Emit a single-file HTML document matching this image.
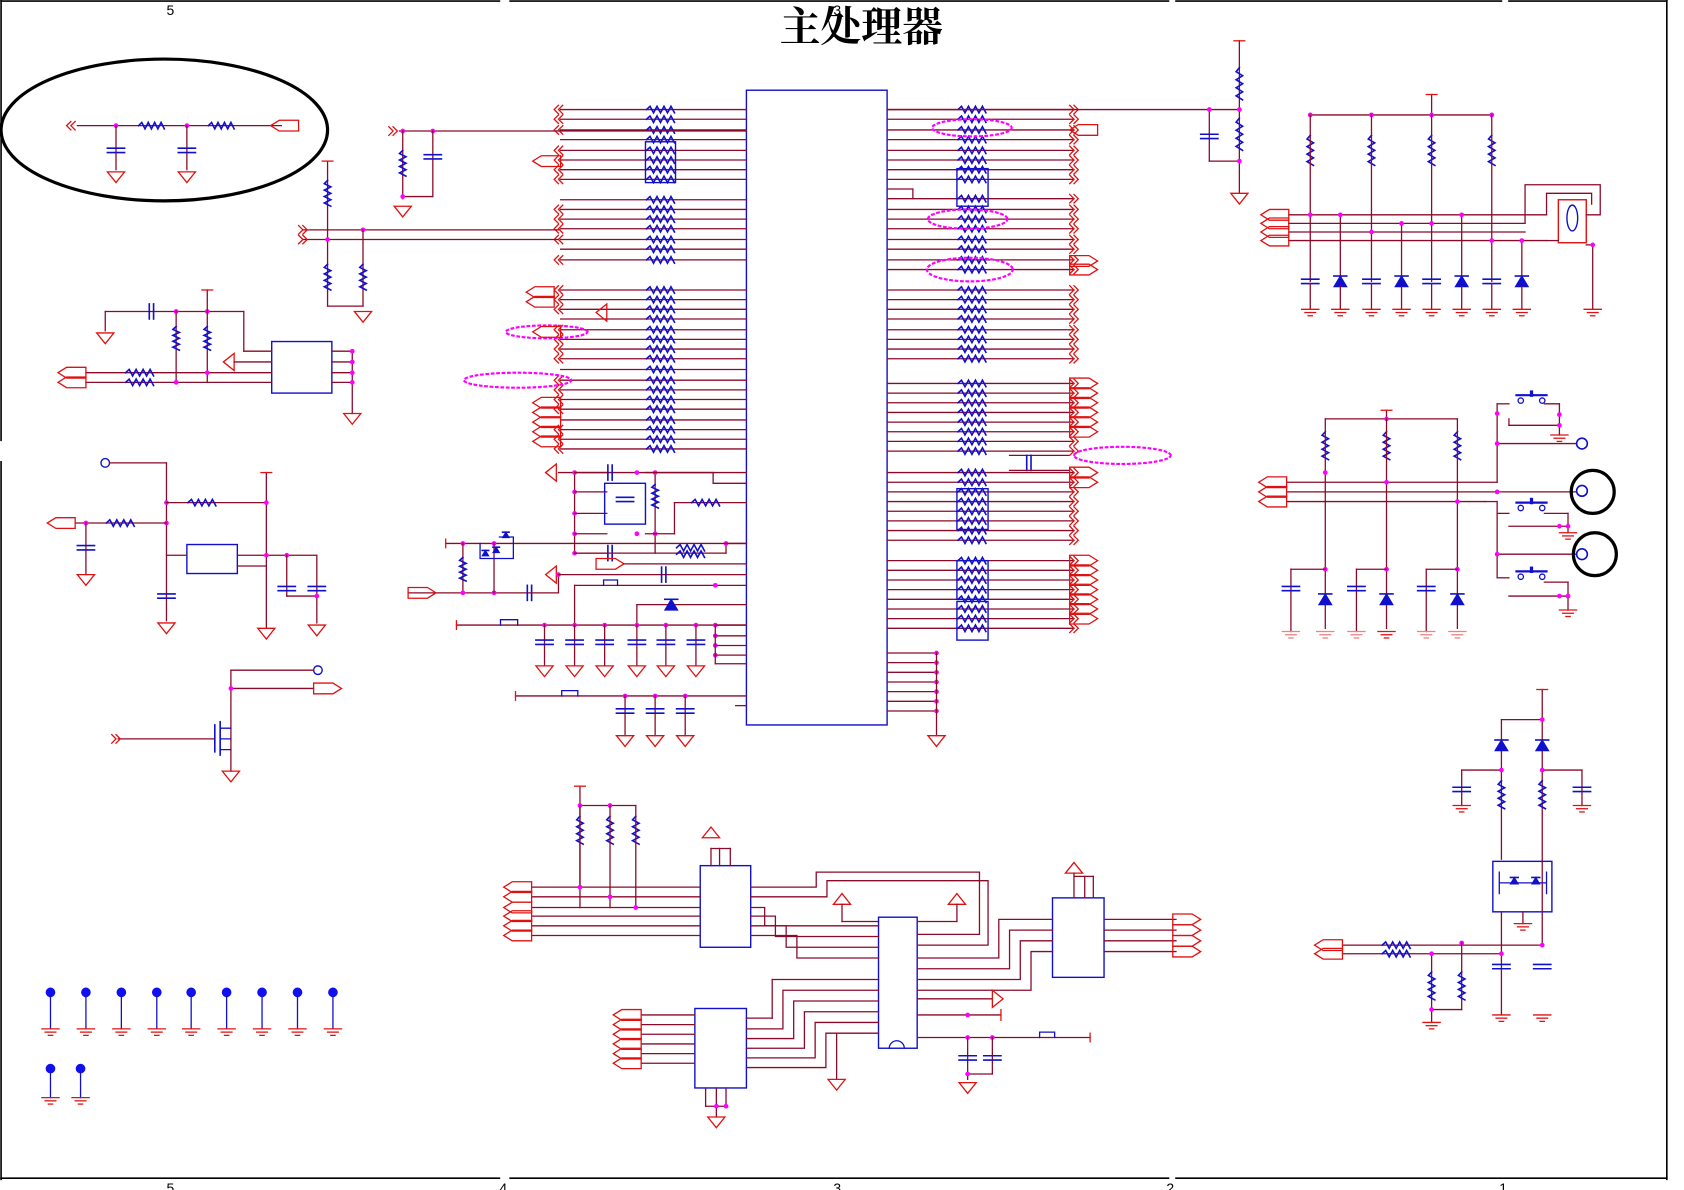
<!DOCTYPE html>
<html><head><meta charset="utf-8"><style>
html,body{margin:0;padding:0;background:#fff;width:1684px;height:1190px;overflow:hidden}
svg{display:block}
</style></head><body>
<svg id="s" width="1684" height="1190" viewBox="0 0 1568 1108" preserveAspectRatio="none" xmlns="http://www.w3.org/2000/svg">
<g id="g" fill="none" stroke-linecap="square"></g>
<text x="802" y="38" font-family="Liberation Serif, 'Noto Serif CJK SC', serif" font-size="38" font-weight="bold" text-anchor="middle" fill="#000">主处理器</text>
<g font-family="Liberation Sans, sans-serif" font-size="13" fill="#000">
<text x="155" y="14">5</text><text x="776" y="14">3</text>
<text x="155" y="1111">5</text><text x="465" y="1111">4</text><text x="776" y="1111">3</text><text x="1086" y="1111">2</text><text x="1396" y="1111">1</text>
</g>
</svg>
<script>
var o=[];
var W="#8a0a2a",R="#e01010",B="#1010cc",M="#ff00ff";
function L(a,b,c,d,col,w){o.push('<line x1="'+a+'" y1="'+b+'" x2="'+c+'" y2="'+d+'" stroke="'+(col||W)+'" stroke-width="'+(w||1.2)+'"/>');}
function P(d,col,w,f){o.push('<path d="'+d+'" stroke="'+(col||W)+'" stroke-width="'+(w||1.2)+'" fill="'+(f||'none')+'"/>');}
function zh(x,y,w){w=w||26;var d='M'+(x-w/2)+' '+y,n=4,s=w/(n*2);for(var i=0;i<n*2;i++){d+=' L'+(x-w/2+s*(i+1))+' '+(y+(i%2?3:-3));}P(d,B,1.5);}
function zv(x,y,h){h=h||26;var d='M'+x+' '+(y-h/2),n=4,s=h/(n*2);for(var i=0;i<n*2;i++){d+=' L'+(x+(i%2?3:-3))+' '+(y-h/2+s*(i+1));}P(d,B,1.5);}
function dot(x,y){o.push('<circle cx="'+x+'" cy="'+y+'" r="2.2" fill="'+M+'"/>');}
function gnd(x,y){P('M'+(x-8)+' '+y+' L'+(x+8)+' '+y+' L'+x+' '+(y+10)+' Z',R,1.2);}
function earth(x,y,c){c=c||R;L(x-8,y,x+8,y,c);L(x-5,y+3,x+5,y+3,c);L(x-2,y+6,x+2,y+6,c);}
function caph(x,y){L(x-8,y-2,x+8,y-2,B,1.5);L(x-8,y+2,x+8,y+2,B,1.5);}
function capv(x,y){L(x-2,y-7,x-2,y+7,B,1.5);L(x+2,y-7,x+2,y+7,B,1.5);}
function chevL(x,y){P('M'+(x+4)+' '+(y-4)+' L'+x+' '+y+' L'+(x+4)+' '+(y+4)+' M'+(x+8)+' '+(y-4)+' L'+(x+4)+' '+y+' L'+(x+8)+' '+(y+4),R,1.2);}
function chevR(x,y){P('M'+(x-4)+' '+(y-4)+' L'+x+' '+y+' L'+(x-4)+' '+(y+4)+' M'+(x-8)+' '+(y-4)+' L'+(x-4)+' '+y+' L'+(x-8)+' '+(y+4),R,1.2);}
function portR(x,y){P('M'+x+' '+(y-5)+' L'+(x+18)+' '+(y-5)+' L'+(x+26)+' '+y+' L'+(x+18)+' '+(y+5)+' L'+x+' '+(y+5)+' Z',R,1.2);}
function portL(x,y){P('M'+x+' '+(y-5)+' L'+(x-18)+' '+(y-5)+' L'+(x-26)+' '+y+' L'+(x-18)+' '+(y+5)+' L'+x+' '+(y+5)+' Z',R,1.2);}
function tri(x,y,dir){ if(dir=='l')P('M'+x+' '+y+' L'+(x+10)+' '+(y-8)+' L'+(x+10)+' '+(y+8)+' Z',R);
 else if(dir=='u')P('M'+x+' '+y+' L'+(x-8)+' '+(y+10)+' L'+(x+8)+' '+(y+10)+' Z',R);
 else P('M'+x+' '+y+' L'+(x-10)+' '+(y-8)+' L'+(x-10)+' '+(y+8)+' Z',R);}
function rect(x,y,w,h,c){o.push('<rect x="'+x+'" y="'+y+'" width="'+w+'" height="'+h+'" stroke="'+(c||B)+'" stroke-width="1.3" fill="none"/>');}
function dell(cx,cy,rx,ry){o.push('<ellipse cx="'+cx+'" cy="'+cy+'" rx="'+rx+'" ry="'+ry+'" stroke="'+M+'" stroke-width="2" stroke-dasharray="1.5 3.5" fill="none"/>');}
function circ(x,y,r,c,w){o.push('<circle cx="'+x+'" cy="'+y+'" r="'+r+'" stroke="'+c+'" stroke-width="'+w+'" fill="none"/>');}
function diode(x,y,s){s=s||1;P('M'+(x-6*s)+' '+(y+5*s)+' L'+(x+6*s)+' '+(y+5*s)+' L'+x+' '+(y-5*s)+' Z',B,1,B);L(x-6*s,y-5*s,x+6*s,y-5*s,B,1.5);}
function sw(x,y){L(x-14,y-8,x+14,y-8,B,2);L(x,y-11,x,y-8,B,3);circ(x-10,y-3,2.5,B,1.2);circ(x+10,y-3,2.5,B,1.2);}

L(1,1,465,1,'#000',1.5);L(475,1,1088,1,'#000',1.5);L(1095,1,1398,1,'#000',1.5);L(1405,1,1552,1,'#000',1.5);
L(1,0,1,410,'#000',1.5);L(1,430,1,1098,'#000',1.5);L(1552,0,1552,1098,'#000',1.5);
L(1,1097,465,1097,'#000',1.5);L(475,1097,1088,1097,'#000',1.5);L(1095,1097,1552,1097,'#000',1.5);

rect(695,84,131,591);
var lr=[102,111,121,130,140,149,158,167,186,195,204,213,223,232,242,270,279,288,297,307,316,325,334,344,354,363,372,381,391,400,409,418];
lr.forEach(function(y,i){L(522,y,695,y);zh(615,y);if(i%5!=3)chevL(516,y);});
rect(601,132,28,38);
var rr=[102,111,121,130,140,149,158,167,185,195,204,213,223,232,242,251,270,279,288,297,307,316,325,334,357,366,375,384,393,402,411,420,440,449,458,467,476,485,494,503,522,531,540,549,558,567,576,585];
rr.forEach(function(y,i){L(826,y,1000,y);zh(905,y);chevR(1004,y);});
rect(891,157,29,35);rect(891,455,29,38);rect(891,522,29,36);rect(891,560,29,36);
L(826,176,850,176);L(850,176,850,185);
portL(1022,121);portR(996,243);portR(996,251);
for(var y=357;y<=402;y+=9)portR(996,y);
for(var y=440;y<=449;y+=9)portR(996,y);
for(var y=522;y<=576;y+=9)portR(996,y);
dell(905,119,37,8);dell(901,204,37,9);dell(903,251,40,11);dell(509,309,38,6);dell(482,354,50,7);dell(1045,424,45,8);
portL(516,272);portL(516,281);portL(522,150);tri(555,291,'l');portL(522,309);
for(var y=375;y<=418;y+=9)portL(522,y);
for(var y=608;y<=665;y+=9){L(826,y,872,y);dot(872,y);}
L(872,608,872,685);gnd(872,685);
L(826,102,1154,102);L(1154,38,1154,180);L(1149,38,1159,38,R);zv(1154,78,30);zv(1154,125,30);
L(1126,102,1126,150);caph(1126,127);L(1126,150,1154,150);dot(1126,102);dot(1154,102);dot(1154,150);gnd(1154,180);
L(940,424,995,424);capv(958,431);L(940,438,995,438);

L(520,440,695,440);tri(508,440,'l');
L(535,440,535,515);[440,458,478,497,515].forEach(function(y){dot(535,y);L(535,y,565,y);});
rect(563,450,38,38);caph(582,465);capv(568,440);capv(568,515);
L(610,440,610,515);zv(610,462,22);dot(593,440);dot(610,440);dot(593,497);dot(610,497);
L(601,497,628,497);L(628,497,628,468);L(628,468,695,468);zh(657,468);
L(535,515,676,515);L(676,515,676,506);L(676,506,695,506);zh(643,510);zh(643,516);dot(676,506);
L(601,440,664,440);L(664,440,664,450);L(664,450,695,450);
L(415,506,695,506);L(415,502,415,510,R);dot(431,506);dot(460,506);
L(431,506,431,552);zv(431,530,22);L(380,552,495,552);portR(380,552);dot(431,552);dot(460,552);
L(460,506,460,552);P('M447 506 L447 520 L478 520 L478 500 L465 500',B,1.2);diode(471,498,0.5);diode(452,515,0.5);diode(462,512,0.5);
capv(493,552);L(495,552,520,552);L(520,552,520,535);tri(508,535,'l');dot(520,535);
L(520,535,695,535);capv(618,535);portR(555,525);L(581,525,695,525);
L(535,545,695,545);L(535,545,535,582);P('M562 545 L562 540 L575 540 L575 545',B);dot(666,545);
L(593,563,695,563);L(593,563,593,582);diode(625,563);
L(425,582,695,582);L(425,578,425,586,R);P('M466 582 L466 577 L482 577 L482 582',B);
[507,535,563,593,620,648].forEach(function(x){dot(x,582);L(x,582,x,620);caph(x,598);gnd(x,620);});
[582,592,601,610].forEach(function(y){dot(666,y);L(666,y,695,y);});L(666,582,666,618);L(666,618,695,618);
L(480,648,695,648);L(480,644,480,652,R);P('M523 648 L523 643 L538 643 L538 648',B);
[582,610,638].forEach(function(x){dot(x,648);L(x,648,x,685);caph(x,662);gnd(x,685);});
L(685,657,695,657);

o.push('<ellipse cx="153" cy="121" rx="152" ry="66" stroke="#000" stroke-width="3" fill="none"/>');
L(72,117,262,117);chevL(62,117);zh(141,117,24);zh(206,117,24);portL(278,117);
[108,174].forEach(function(x){dot(x,117);L(x,117,x,158);caph(x,140);gnd(x,160);});
chevR(370,122);L(372,122,695,122);dot(375,122);dot(403,122);
L(375,122,375,185);zv(375,152,24);L(403,122,403,183);caph(403,146);L(375,183,403,183);dot(375,183);gnd(375,192);
L(282,214,520,214);L(282,223,520,223);chevR(286,214);chevR(286,223);
L(305,150,305,285);L(300,150,310,150,R);zv(305,180,24);dot(305,223);dot(338,214);
L(338,214,338,285);zv(305,258,24);zv(338,258,24);L(305,285,338,285);gnd(338,290);
rect(253,318,56,48);
L(98,290,98,308);gnd(98,310);L(98,290,227,290);capv(141,290);dot(164,290);dot(193,290);
L(193,270,193,355);L(188,270,198,270,R);L(164,290,164,355);zv(164,315,22);zv(193,315,22);
L(227,290,227,327);L(227,327,253,327);tri(208,337,'l');L(218,337,253,337);
L(80,347,253,347);L(80,356,253,356);portL(80,347);portL(80,356);zh(130,347);zh(130,356);dot(164,356);dot(193,347);
L(309,327,328,327);L(309,337,328,337);L(309,347,328,347);L(309,356,328,356);L(328,327,328,385);[327,337,347,356].forEach(function(y){dot(328,y);});gnd(328,385);
circ(98,431,4,B,1.3);L(102,431,155,431);L(155,431,155,578);dot(155,468);dot(155,487);
L(155,468,248,468);zh(188,468);L(248,440,248,585);L(243,440,253,440,R);dot(248,468);
L(70,487,155,487);portL(70,487);zh(112,487);dot(80,487);L(80,487,80,535);caph(80,510);gnd(80,535);
rect(174,507,47,27);L(155,517,174,517);L(221,517,295,517);L(221,527,248,527);dot(248,517);dot(267,517);
L(267,517,267,555);L(295,517,295,580);caph(267,548);caph(295,548);L(267,555,295,555);dot(295,555);
caph(155,555);gnd(155,580);gnd(248,585);gnd(295,582);
circ(296,624,4,B,1.3);L(215,624,292,624);L(215,624,215,718);L(215,641,292,641);portR(292,641);dot(215,641);
L(110,688,200,688);chevR(112,688);L(200,675,200,700,B,1.5);L(205,672,205,703,B,1.5);P('M205 678 L215 678 M205 688 L215 688 M205 698 L215 698',B);gnd(215,718);
[47,80,113,146,178,211,244,277,310].forEach(function(x){o.push('<circle cx="'+x+'" cy="924" r="4.5" fill="#1010ee"/>');L(x,928,x,958,B);earth(x,958);});
[47,75].forEach(function(x){o.push('<circle cx="'+x+'" cy="995" r="4.5" fill="#1010ee"/>');L(x,999,x,1022,B);earth(x,1022);});

L(1220,107,1389,107);L(1333,88,1333,107);L(1328,88,1338,88,R);[1220,1277,1333,1389].forEach(function(x){dot(x,107);zv(x,140,28);});
L(1200,200,1440,200);L(1200,208,1420,208);L(1200,216,1420,216);L(1200,224,1440,224);
for(var y=200;y<=224;y+=8)portL(1200,y+0);
L(1220,107,1220,262);L(1277,107,1277,262);L(1333,107,1333,262);L(1389,107,1389,262);
L(1248,200,1248,262);L(1305,208,1305,262);L(1361,200,1361,262);L(1417,224,1417,262);
[[1220,200],[1248,200],[1277,216],[1305,208],[1333,208],[1361,200],[1389,224],[1417,224]].forEach(function(p){dot(p[0],p[1]);});
[1220,1277,1333,1389].forEach(function(x){caph(x,262);L(x,264,x,288);earth(x,288);});
[1248,1305,1361,1417].forEach(function(x){diode(x,262);L(x,267,x,288);earth(x,288);});
rect(1451,186,26,40,R);o.push('<ellipse cx="1464" cy="203" rx="5" ry="12" stroke="'+B+'" stroke-width="1.3" fill="none"/>');
P('M1420 208 L1420 172 L1490 172 L1490 200 L1477 200',W);P('M1440 200 L1440 180 L1482 180 L1482 190',W);
L(1440,224,1451,224);L(1477,228,1483,228);L(1483,228,1483,288);dot(1483,228);earth(1483,288);

L(1198,449,1394,449);L(1198,458,1394,458);L(1198,467,1383,467);for(var y=449;y<=467;y+=9)portL(1198,y);
L(1234,390,1357,390);L(1291,382,1291,390);L(1286,382,1296,382,R);dot(1291,390);
[1234,1291,1357].forEach(function(x){zv(x,415,26);L(x,390,x,585);});dot(1234,440);dot(1291,449);dot(1357,467);
L(1394,376,1394,449);L(1394,376,1405,376);sw(1426,376);L(1438,376,1452,376);L(1452,376,1452,405);L(1405,390,1405,396);L(1405,396,1452,396);earth(1452,405);dot(1452,386);dot(1452,396);
L(1394,413,1468,413);circ(1473,413,5,B,1.5);dot(1394,413);dot(1394,385);
L(1394,458,1468,458);circ(1473,457,5,B,1.5);dot(1394,458);
L(1383,467,1394,467);L(1394,467,1394,538);L(1394,478,1405,478);sw(1426,476);L(1438,478,1460,478);L(1460,478,1460,496);L(1405,490,1460,490);dot(1452,490);dot(1460,490);earth(1460,496);
L(1394,516,1468,516);circ(1473,516,5,B,1.5);dot(1394,516);
L(1394,538,1405,538);sw(1426,540);L(1438,542,1460,542);L(1460,542,1460,568);L(1405,555,1460,555);dot(1452,555);dot(1460,555);earth(1460,568);
circ(1483,458,20,'#000',3);circ(1485,516,20,'#000',3);
[[1202,1234],[1263,1291],[1328,1357]].forEach(function(p){dot(p[1],530);L(p[0],530,p[1],530);L(p[0],530,p[0],588);caph(p[0],548);diode(p[1],558);earth(p[0],588,'#f08080');earth(p[1],588,p[1]==1291?R:'#f08080');});

L(1436,642,1436,880);L(1431,642,1441,642,R);L(1398,670,1436,670);dot(1436,670);L(1398,670,1398,700);
diode(1398,694);diode(1436,694);L(1398,700,1398,800);
L(1361,717,1398,717);L(1436,717,1473,717);L(1361,717,1361,750);L(1473,717,1473,750);caph(1361,735);caph(1473,735);earth(1361,750);earth(1473,750);
dot(1398,717);dot(1436,717);zv(1398,740,26);zv(1436,740,26);
rect(1390,802,55,47);P('M1396 812 L1396 832 M1396 822 L1440 822 M1440 812 L1440 832',B);diode(1410,820,0.6);diode(1430,820,0.6);L(1418,849,1418,860);earth(1418,860);
L(1250,880,1436,880);L(1250,888,1398,888);portL(1250,880);portL(1250,888);zh(1300,880);zh(1300,888);
L(1398,849,1398,945);dot(1398,888);dot(1436,880);dot(1361,878);L(1361,878,1361,940);L(1333,888,1333,952);dot(1333,888);
zv(1333,918,26);zv(1361,918,26);L(1333,940,1361,940);dot(1333,940);earth(1333,952);
caph(1398,900);caph(1436,900);earth(1398,945);earth(1436,945);

rect(652,806,47,76);rect(818,854,36,122);rect(980,836,48,74);rect(647,939,48,74);
P('M828 976 A7 7 0 0 1 842 976',B);
L(540,732,540,826);L(535,732,545,732,R);L(540,750,592,750);dot(540,750);dot(568,750);
[540,568,592].forEach(function(x){zv(x,773,26);L(x,750,x,845);});
[826,835,845,853,862,871].forEach(function(y,i){L(495,y,652,y);portL(495,y);});dot(540,826);dot(568,835);dot(592,845);
L(662,790,662,806);tri(662,770,'u');L(662,790,680,790);L(670,790,670,806);L(680,790,680,806);
P('M699 826 L760 826 L760 812 L912 812 L912 870 L854 870',W);P('M699 835 L770 835 L770 820 L920 820 L920 880 L854 880',W);
P('M699 845 L712 845 L712 862 L818 862',W);P('M699 853 L722 853 L722 872 L818 872',W);P('M699 862 L732 862 L732 882 L818 882',W);P('M699 871 L742 871 L742 892 L818 892',W);
tri(784,832,'u');L(784,842,784,858);L(784,858,818,858);tri(891,832,'u');L(891,842,891,858);L(891,858,854,858);
P('M854 892 L930 892 L930 856 L980 856',W);P('M854 902 L940 902 L940 866 L980 866',W);P('M854 912 L950 912 L950 876 L980 876',W);P('M854 922 L960 922 L960 886 L980 886',W);
L(1028,856,1095,856);L(1028,866,1095,866);L(1028,876,1095,876);L(1028,886,1095,886);[856,866,876,886].forEach(function(y){portR(1092,y);});
tri(1000,803,'u');L(1000,813,1000,836);L(1000,816,1018,816);L(1010,816,1010,836);L(1018,816,1018,836);
P('M854 930 L924 930',W);tri(934,930,'r');L(854,945,932,945);dot(901,945);L(932,940,932,950,R);
L(854,966,1015,966);dot(901,966);dot(924,966);L(1015,962,1015,970,R);P('M968 966 L968 961 L982 961 L982 966',B);
L(901,966,901,1005);L(924,966,924,1000);caph(901,985);caph(924,985);L(901,1000,924,1000);dot(901,1000);gnd(901,1008);
L(719,912,818,912);L(719,912,719,948);L(695,948,719,948);P('M695 958 L729 958 L729 922 L818 922',W);P('M695 967 L739 967 L739 932 L818 932',W);
P('M695 976 L749 976 L749 942 L818 942',W);P('M695 985 L759 985 L759 952 L818 952',W);P('M695 994 L769 994 L769 962 L818 962',W);
L(779,962,779,1005);gnd(779,1005);
[945,954,963,972,981,990].forEach(function(y){L(597,y,647,y);portL(597,y);});
L(667,1013,667,1040);L(676,1013,676,1030);L(657,1013,657,1030);L(657,1030,676,1030);dot(667,1030);dot(676,1030);gnd(667,1040);

document.getElementById('g').innerHTML=o.join('');
</script>
</body></html>
